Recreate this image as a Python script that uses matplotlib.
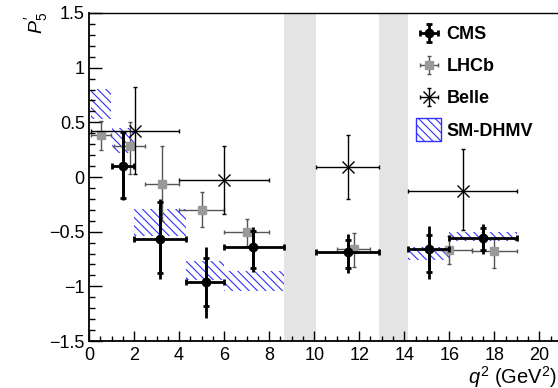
import numpy as np
import matplotlib
matplotlib.use("Agg")
import matplotlib.pyplot as plt
from matplotlib.patches import Patch, Rectangle
from matplotlib.legend_handler import HandlerPatch

plt.rcParams['font.family'] = ['Liberation Sans', 'DejaVu Sans']
plt.rcParams['mathtext.fontset'] = 'custom'
plt.rcParams['mathtext.rm'] = 'Liberation Sans'
plt.rcParams['mathtext.it'] = 'Liberation Sans:italic'
plt.rcParams['hatch.linewidth'] = 0.8

# CMS: q2 bins, P5' values, stat and total errors (up / down)
cms_lo = [1.0, 2.0, 4.3, 6.0, 10.09, 14.18, 16.0]
cms_hi = [2.0, 4.3, 6.0, 8.68, 12.86, 16.0, 19.0]
cms_x = [1.5, 3.15, 5.2, 7.3, 11.5, 15.1, 17.5]
cms_y = [0.10, -0.57, -0.96, -0.64, -0.69, -0.66, -0.56]
cms_stat_up = [0.31, 0.34, 0.22, 0.15, 0.115, 0.13, 0.09]
cms_stat_dn = [0.29, 0.31, 0.22, 0.195, 0.145, 0.205, 0.11]
cms_tot_up = [0.32, 0.37, 0.32, 0.185, 0.17, 0.21, 0.13]
cms_tot_dn = [0.31, 0.36, 0.33, 0.225, 0.19, 0.27, 0.14]

# LHCb
lhcb_lo = [0.1, 1.1, 2.5, 4.0, 6.0, 11.0, 15.0, 17.0]
lhcb_hi = [0.98, 2.5, 4.0, 6.0, 8.0, 12.5, 17.0, 19.0]
lhcb_x = [0.54, 1.8, 3.25, 5.0, 7.0, 11.75, 16.0, 18.0]
lhcb_y = [0.385, 0.285, -0.065, -0.30, -0.505, -0.655, -0.665, -0.675]
lhcb_up = [0.125, 0.22, 0.345, 0.16, 0.12, 0.145, 0.13, 0.105]
lhcb_dn = [0.14, 0.26, 0.34, 0.16, 0.125, 0.17, 0.13, 0.16]

# Belle
belle_lo = [0.1, 4.0, 10.09, 14.18]
belle_hi = [4.0, 8.0, 12.9, 19.0]
belle_x = [2.05, 6.0, 11.5, 16.6]
belle_y = [0.42, -0.03, 0.095, -0.13]
belle_up = [0.40, 0.31, 0.285, 0.39]
belle_dn = [0.39, 0.31, 0.295, 0.355]

# SM-DHMV prediction boxes
sm_lo = [0.1, 1.0, 2.0, 4.3, 6.0, 14.18, 16.0]
sm_hi = [0.98, 2.0, 4.3, 6.0, 8.68, 16.0, 19.0]
sm_ylo = [0.53, 0.22, -0.54, -0.94, -1.04, -0.76, -0.585]
sm_yhi = [0.805, 0.45, -0.29, -0.77, -0.86, -0.64, -0.50]

# charmonium vetoed regions
veto_lo = [8.68, 12.86]
veto_hi = [10.09, 14.18]

HATCH_COL = '#3030ff'


def tall_box(legend, orig_handle, xdescent, ydescent, width, height, fontsize):
    # square-ish box like the ROOT legend fill entry
    return Rectangle((-xdescent, -ydescent - 0.4 * height), width, height * 1.8)


def main():
    fig = plt.figure(figsize=(5.58, 3.88), dpi=100)
    ax = fig.add_axes([0.1595, 0.1211, 0.8475, 0.8454])

    for lo, hi in zip(veto_lo, veto_hi):
        ax.axvspan(lo, hi, color='#e4e4e4', lw=0, zorder=0)

    sm_w = np.array(sm_hi) - np.array(sm_lo)
    sm_h = np.array(sm_yhi) - np.array(sm_ylo)
    ax.bar(sm_lo, sm_h, width=sm_w, bottom=sm_ylo, align='edge', facecolor='none',
           edgecolor=HATCH_COL, hatch='\\\\\\\\', lw=0, zorder=1)

    # LHCb
    lx = np.array(lhcb_x)
    lxerr = [lx - np.array(lhcb_lo), np.array(lhcb_hi) - lx]
    lhcb = ax.errorbar(lhcb_x, lhcb_y, yerr=[lhcb_dn, lhcb_up], xerr=lxerr, fmt='s',
                       color='#555555', mfc='#999999', mec='#999999', ms=5.5,
                       elinewidth=1.0, capsize=1.5, capthick=1.0, zorder=3)

    # Belle
    bx = np.array(belle_x)
    bxerr = [bx - np.array(belle_lo), np.array(belle_hi) - bx]
    belle = ax.errorbar(belle_x, belle_y, yerr=[belle_dn, belle_up], xerr=bxerr, fmt='x',
                        color='black', ms=8, mew=1.0, elinewidth=1.0,
                        capsize=1.2, capthick=1.0, zorder=4)

    # CMS: total error first (no caps), then stat error with caps
    cx = np.array(cms_x)
    cxerr = [cx - np.array(cms_lo), np.array(cms_hi) - cx]
    ax.errorbar(cms_x, cms_y, yerr=[cms_tot_dn, cms_tot_up], fmt='none',
                ecolor='black', elinewidth=2.0, capsize=0, zorder=5)
    cms = ax.errorbar(cms_x, cms_y, yerr=[cms_stat_dn, cms_stat_up], xerr=cxerr, fmt='o',
                      color='black', ms=6, elinewidth=2.0, capsize=2.0, capthick=2.0,
                      zorder=6)

    ax.set_xlim(0, 21)
    ax.set_ylim(-1.5, 1.5)
    ax.set_xticks(np.arange(0, 21, 2))
    ax.set_xticks(np.arange(0, 21, 0.5), minor=True)
    ax.set_yticks([-1.5, -1, -0.5, 0, 0.5, 1, 1.5])
    ax.set_yticklabels(['\u22121.5', '\u22121', '\u22120.5', '0', '0.5', '1', '1.5'])
    ax.set_yticks(np.arange(-1.5, 1.51, 0.1), minor=True)
    ax.tick_params(axis='both', which='both', direction='in', labelsize=13,
                   top=False, right=False)
    ax.tick_params(axis='x', which='major', length=7, width=1, pad=4)
    ax.tick_params(axis='x', which='minor', length=3.5, width=1)
    ax.tick_params(axis='y', which='major', length=9, width=1, pad=3)
    ax.tick_params(axis='y', which='minor', length=4.5, width=1)
    for s in ['left', 'bottom']:
        ax.spines[s].set_linewidth(1.3)
    ax.spines['top'].set_linewidth(1.0)

    fig.text(0.998, 0.012, r'$q^2$ (GeV$^2$)', ha='right', va='baseline', fontsize=14.5)
    fig.text(0.066, 0.97, r"$P_5^{\prime}$", rotation=90, ha='center', va='top', fontsize=14)

    sm_patch = Patch(facecolor='white', edgecolor=HATCH_COL, hatch='\\\\\\\\', lw=1.0)
    ax.legend([cms, lhcb, belle, sm_patch], ['CMS', 'LHCb', 'Belle', 'SM-DHMV'],
              loc='upper left', bbox_to_anchor=(0.676, 0.982), frameon=False,
              prop={'weight': 'bold', 'size': 13}, handlelength=1.4,
              handletextpad=0.3, labelspacing=0.84, borderaxespad=0,
              handler_map={Patch: HandlerPatch(patch_func=tall_box)})

    fig.savefig('out.png', dpi=100)


if __name__ == "__main__":
    main()
